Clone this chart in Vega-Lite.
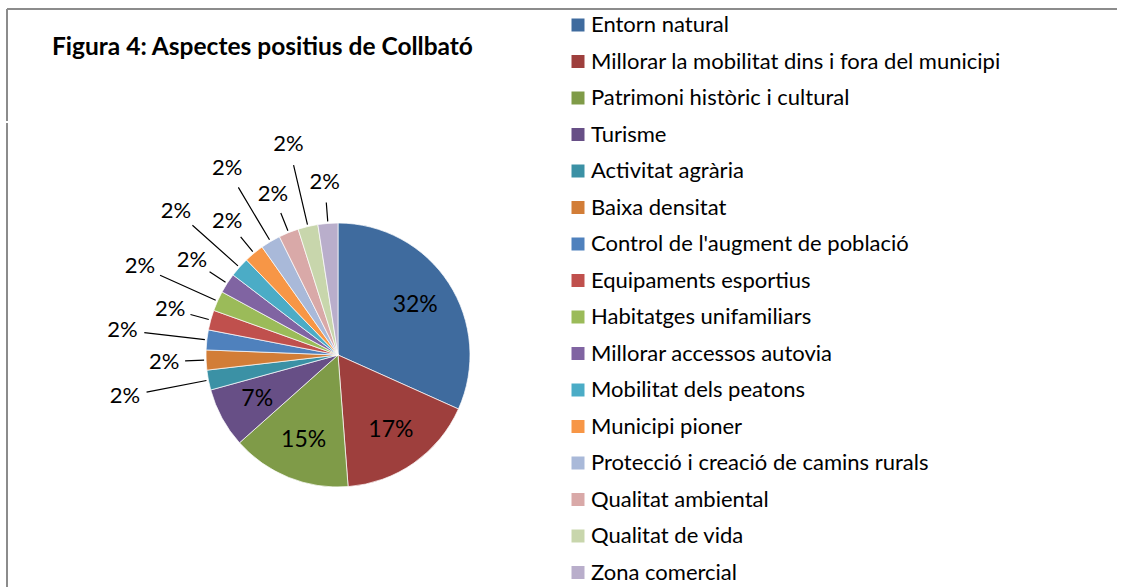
{
  "$schema": "https://vega.github.io/schema/vega-lite/v6.json",
  "autosize": {"type": "pad"},
  "padding": {"left": 6, "top": 8, "right": 0, "bottom": 0},
  "background": "white",
  "title": {
    "text": "Figura 4: Aspectes positius de Collbató",
    "anchor": "start",
    "font": "Lato",
    "fontSize": 24.5,
    "fontWeight": "bold",
    "color": "#000000",
    "offset": -52,
    "dx": 46
  },
  "config": {"view": {"stroke": null}, "font": "Lato"},
  "spacing": 0,
  "datasets": {
    "slices": [
      {"idx": 1, "category": "Entorn natural", "count": 13, "pct": "32%"},
      {"idx": 2, "category": "Millorar la mobilitat dins i fora del municipi", "count": 7, "pct": "17%"},
      {"idx": 3, "category": "Patrimoni històric i cultural", "count": 6, "pct": "15%"},
      {"idx": 4, "category": "Turisme", "count": 3, "pct": "7%"},
      {"idx": 5, "category": "Activitat agrària", "count": 1, "pct": "2%"},
      {"idx": 6, "category": "Baixa densitat", "count": 1, "pct": "2%"},
      {"idx": 7, "category": "Control de l'augment de població", "count": 1, "pct": "2%"},
      {"idx": 8, "category": "Equipaments esportius", "count": 1, "pct": "2%"},
      {"idx": 9, "category": "Habitatges unifamiliars", "count": 1, "pct": "2%"},
      {"idx": 10, "category": "Millorar accessos autovia", "count": 1, "pct": "2%"},
      {"idx": 11, "category": "Mobilitat dels peatons", "count": 1, "pct": "2%"},
      {"idx": 12, "category": "Municipi pioner", "count": 1, "pct": "2%"},
      {"idx": 13, "category": "Protecció i creació de camins rurals", "count": 1, "pct": "2%"},
      {"idx": 14, "category": "Qualitat ambiental", "count": 1, "pct": "2%"},
      {"idx": 15, "category": "Qualitat de vida", "count": 1, "pct": "2%"},
      {"idx": 16, "category": "Zona comercial", "count": 1, "pct": "2%"}
    ]
  },
  "vconcat": [
    {
      "width": 1116,
      "height": 112,
      "view": {"stroke": "#8C8C8C", "strokeWidth": 2, "strokeDash": [1110, 1234, 112, 0]},
      "data": {"values": []},
      "mark": "point",
      "encoding": {}
    },
    {
      "width": 662,
      "height": 464,
      "view": {"stroke": "#8C8C8C", "strokeWidth": 2, "strokeDash": [0, 1788, 464, 0]},
      "data": {"name": "slices"},
      "encoding": {
        "theta": {"field": "count", "type": "quantitative", "stack": true},
        "order": {"field": "idx", "type": "quantitative"}
      },
      "layer": [
        {
          "mark": {"type": "arc", "outerRadius": 132, "stroke": "#FFFFFF", "strokeWidth": 0.7},
          "encoding": {
            "color": {
              "field": "category",
              "type": "nominal",
              "scale": {
                "domain": ["Entorn natural", "Millorar la mobilitat dins i fora del municipi", "Patrimoni històric i cultural", "Turisme", "Activitat agrària", "Baixa densitat", "Control de l'augment de població", "Equipaments esportius", "Habitatges unifamiliars", "Millorar accessos autovia", "Mobilitat dels peatons", "Municipi pioner", "Protecció i creació de camins rurals", "Qualitat ambiental", "Qualitat de vida", "Zona comercial"],
                "range": ["#3F6B9E", "#9E3F3D", "#7F9B48", "#674F86", "#3B91A5", "#D27D37", "#4F81BD", "#C0504D", "#9BBB59", "#8064A2", "#4BACC6", "#F79646", "#A9B9D9", "#D9A9A8", "#C8D6AC", "#B9AECB"]
              },
              "legend": {
                "orient": "none",
                "legendX": 560,
                "legendY": 5,
                "title": null,
                "padding": 0,
                "symbolType": "square",
                "symbolSize": 169,
                "symbolStrokeWidth": 0,
                "labelFont": "Lato",
                "labelFontSize": 22,
                "labelColor": "#000000",
                "labelOffset": 2,
                "labelLimit": 600,
                "rowPadding": 14.5,
                "columns": 1
              }
            }
          }
        },
        {
          "mark": {"type": "arc", "innerRadius": 134, "outerRadius": 195, "padAngle": 0.9, "fill": "transparent", "stroke": "#000000", "strokeWidth": 1.2},
          "encoding": {
            "detail": {"field": "category", "type": "nominal"},
            "strokeOpacity": {"condition": {"test": "datum.count == 1 && datum.idx % 2 == 1", "value": 1}, "value": 0}
          }
        },
        {
          "mark": {"type": "arc", "innerRadius": 134, "outerRadius": 153, "padAngle": 0.9, "fill": "transparent", "stroke": "#000000", "strokeWidth": 1.2},
          "encoding": {
            "detail": {"field": "category", "type": "nominal"},
            "strokeOpacity": {"condition": {"test": "datum.count == 1 && datum.idx % 2 == 0", "value": 1}, "value": 0}
          }
        },
        {
          "mark": {"type": "text", "radius": 92, "font": "Lato", "fontSize": 23, "color": "#000000"},
          "encoding": {
            "detail": {"field": "category", "type": "nominal"},
            "text": {"condition": {"test": "datum.count > 1", "field": "pct"}, "value": ""}
          }
        },
        {
          "mark": {"type": "text", "radius": 217, "font": "Lato", "fontSize": 22, "color": "#000000"},
          "encoding": {
            "detail": {"field": "category", "type": "nominal"},
            "text": {"condition": {"test": "datum.count == 1 && datum.idx % 2 == 1", "field": "pct"}, "value": ""}
          }
        },
        {
          "mark": {"type": "text", "radius": 174, "font": "Lato", "fontSize": 22, "color": "#000000"},
          "encoding": {
            "detail": {"field": "category", "type": "nominal"},
            "text": {"condition": {"test": "datum.count == 1 && datum.idx % 2 == 0", "field": "pct"}, "value": ""}
          }
        }
      ]
    }
  ]
}
